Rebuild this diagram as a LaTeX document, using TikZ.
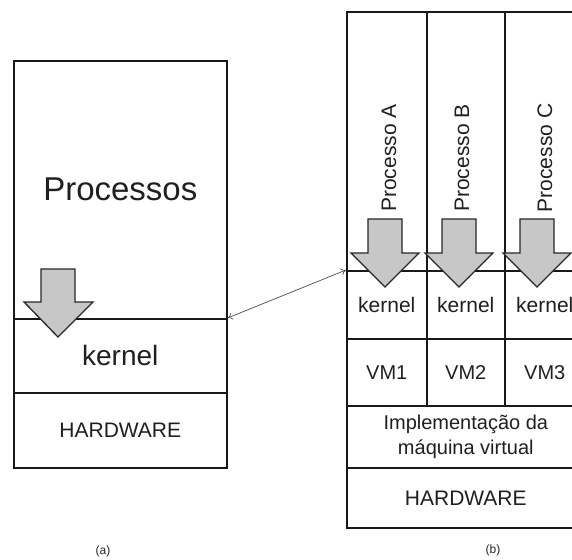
\documentclass[tikz,border=0pt]{standalone}
\usepackage{fontspec}
\setmainfont{Liberation Sans}
\usetikzlibrary{arrows.meta}
\begin{document}
\begin{tikzpicture}[x=1pt,y=-1pt,
  cell/.style={draw=black!90,line width=1.6pt,anchor=north west,inner sep=0pt,align=center,text=black!88},
  downarrow/.style={draw=black!85,fill=black!22,line width=1.3pt,line join=miter},
  txt/.style={text=black!88,inner sep=0pt,font=\fontsize{21}{25}\selectfont},
  captiontext/.style={text=black!85,inner sep=0pt,font=\fontsize{12}{14}\selectfont},
]
\useasboundingbox (0,0) rectangle (572,559);
\clip (0,0) rectangle (572,559);

% (a) single machine
\node[cell,minimum width=213pt,minimum height=258pt,font=\fontsize{33}{38}\selectfont] (procL) at (13,60) {Processos};
\node[cell,minimum width=213pt,minimum height=74pt,font=\fontsize{28}{32}\selectfont] (kernL) at (13,318) {kernel};
\node[cell,minimum width=213pt,minimum height=75pt,font=\fontsize{21}{25}\selectfont] (hwL) at (13,392) {HARDWARE};

% (b) virtual machines: one column per process
\node[cell,minimum width=80pt,minimum height=259pt] (colA) at (346,11) {};
\node[cell,minimum width=78pt,minimum height=259pt] (colB) at (426,11) {};
\node[cell,minimum width=80pt,minimum height=259pt] (colC) at (504,11) {};
\node[cell,minimum width=80pt,minimum height=68pt,font=\fontsize{21}{25}\selectfont] (kA) at (346,270) {kernel};
\node[cell,minimum width=78pt,minimum height=68pt,font=\fontsize{21}{25}\selectfont] (kB) at (426,270) {kernel};
\node[cell,minimum width=80pt,minimum height=68pt,font=\fontsize{21}{25}\selectfont] (kC) at (504,270) {kernel};
\node[cell,minimum width=80pt,minimum height=67pt,font=\fontsize{20}{24}\selectfont] (vm1) at (346,338) {VM1};
\node[cell,minimum width=78pt,minimum height=67pt,font=\fontsize{20}{24}\selectfont] (vm2) at (426,338) {VM2};
\node[cell,minimum width=80pt,minimum height=67pt,font=\fontsize{20}{24}\selectfont] (vm3) at (504,338) {VM3};
\node[cell,minimum width=238pt,minimum height=62pt,font=\fontsize{20}{25}\selectfont] (impl) at (346,405) {Implementação da\\máquina virtual};
\node[cell,minimum width=238pt,minimum height=60pt,font=\fontsize{21}{25}\selectfont] (hwR) at (346,467) {HARDWARE};

\node[txt,rotate=90] (pA) at (389,158) {Processo A};
\node[txt,rotate=90] (pB) at (462,158) {Processo B};
\node[txt,rotate=90] (pC) at (545,158) {Processo C};

% system-call arrows into the kernels
\draw[downarrow] (41,269) -- (75,269) -- (75,302) -- (93,302) -- (58,337) -- (24,302) -- (41,302) -- cycle;
\foreach \c in {385,459,537}{
  \draw[downarrow] (\c-17,219) -- (\c+17,219) -- (\c+17,253) -- (\c+34,253) -- (\c,287) -- (\c-34,253) -- (\c-17,253) -- cycle;
}

% correspondence between the two kernel levels
\draw[{To[length=5pt,width=7pt]}-{To[length=5pt,width=7pt]},draw=black!70,line width=0.7pt] (kernL.north east) -- (kA.north west);

\node[captiontext] (capa) at (103,551) {(a)};
\node[captiontext] (capb) at (493,550) {(b)};
\end{tikzpicture}
\end{document}
